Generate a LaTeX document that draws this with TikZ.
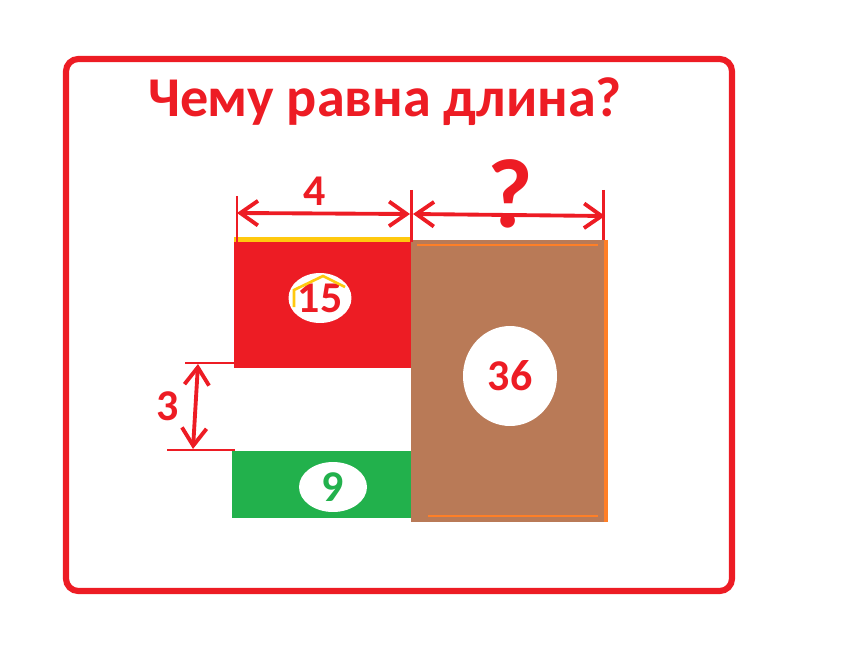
\documentclass[tikz,border=0pt]{standalone}
\usepackage{fontspec}
\setmainfont{Carlito}
\usetikzlibrary{arrows.meta,shapes.geometric}
\definecolor{pred}{RGB}{237,28,36}
\definecolor{pbrown}{RGB}{185,122,87}
\definecolor{pgreen}{RGB}{34,177,76}
\definecolor{porange}{RGB}{255,127,39}
\definecolor{pyellow}{RGB}{255,201,14}
\begin{document}
\begin{tikzpicture}[x=0.02cm,y=-0.02cm,
    num/.style={font=\bfseries\fontsize{25}{28}\selectfont,text=pred,inner sep=0pt},
    blob/.style={ellipse,fill=white,inner sep=0pt},
    dim/.style={draw=pred,line width=2.2pt,{Straight Barb[length=10pt,width=14pt]}-{Straight Barb[length=10pt,width=14pt]}},
    ext/.style={draw=pred,line width=1.7pt}]
  \useasboundingbox (0,0) rectangle (844,658);
  \draw[pred,line width=3.5pt,rounded corners=7pt] (66,59) rectangle (732,591);
  \node[anchor=base,text=pred,font=\bfseries\fontsize{32}{36}\selectfont] (title) at (385,117) {Чему равна длина?};
  % blocks
  \fill[pred] (234,242) rectangle (411,368);
  \fill[pyellow] (234,237) rectangle (411,242);
  \fill[pgreen] (232,451) rectangle (411,518);
  \fill[pbrown] (411,240) rectangle (604,522);
  \draw[porange,line width=2.5pt] (606,240) -- (606,522);
  \draw[porange,line width=1pt] (417,245) -- (598,245);
  \draw[porange,line width=1.5pt] (428,516) -- (598,516);
  % areas
  \node[blob,num,minimum width=1.1cm,minimum height=1cm] (a15) at (320,298) {15};
  \draw[pyellow,line width=1.5pt] (294,307) -- (294,290) -- (323,276) -- (345,287);
  \node[blob,num,minimum width=1.88cm,minimum height=2cm] (a36) at (510,376) {36};
  \node[blob,num,text=pgreen,minimum width=1.36cm,minimum height=1cm] (a9) at (333,487) {9};
  % dimensions
  \coordinate (w4l) at (237,213);
  \coordinate (w4r) at (410,214);
  \coordinate (wql) at (413,214);
  \coordinate (wqr) at (605,216);
  \coordinate (h3t) at (198,364);
  \coordinate (h3b) at (193,449);
  \draw[ext] (237,196) -- (237,242);
  \draw[ext] (411,190) -- (411,242);
  \draw[ext] (603,190) -- (603,240);
  \draw[ext] (185,363) -- (235,363);
  \draw[ext] (167,450) -- (235,450);
  \draw[dim] (w4l) -- (w4r);
  \draw[dim] (wql) -- (wqr);
  \draw[dim] (h3t) -- (h3b);
  \node[num] (l4) at (315,191) {4};
  \node[num,font=\bfseries\fontsize{56}{60}\selectfont] (lq) at (510,194) {?};
  \node[num] (l3) at (168,406) {3};
\end{tikzpicture}
\end{document}
